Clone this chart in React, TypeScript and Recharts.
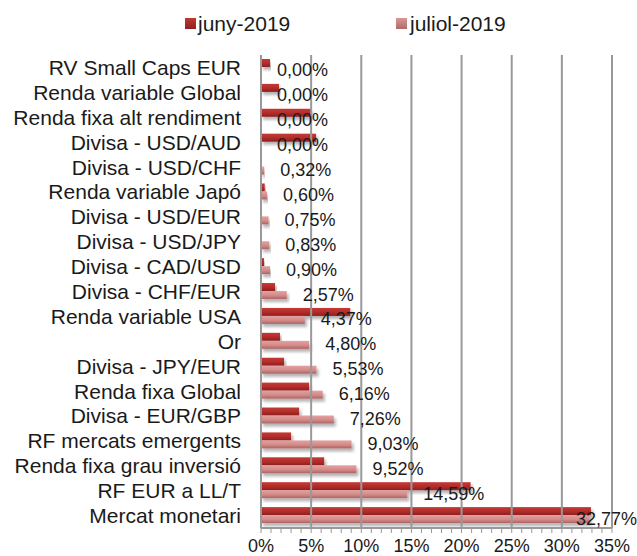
import { BarChart, Bar, XAxis, YAxis, ReferenceLine, LabelList } from 'recharts';

const FONT = '"Liberation Sans", Arial, sans-serif';

const categories = [
  'RV Small Caps EUR', 'Renda variable Global', 'Renda fixa alt rendiment', 'Divisa - USD/AUD',
  'Divisa - USD/CHF', 'Renda variable Japó', 'Divisa - USD/EUR', 'Divisa - USD/JPY',
  'Divisa - CAD/USD', 'Divisa - CHF/EUR', 'Renda variable USA', 'Or', 'Divisa - JPY/EUR',
  'Renda fixa Global', 'Divisa - EUR/GBP', 'RF mercats emergents', 'Renda fixa grau inversió',
  'RF EUR a LL/T', 'Mercat monetari',
];

// % values
const juny2019 = [0.9, 1.8, 5.0, 5.5, 0, 0.37, 0, 0, 0.3, 1.4, 8.9, 1.9, 2.3, 4.8, 3.8, 3.0, 6.3, 20.9, 32.9];
const juliol2019 = [0, 0, 0, 0, 0.32, 0.6, 0.75, 0.83, 0.9, 2.57, 4.37, 4.8, 5.53, 6.16, 7.26, 9.03, 9.52, 14.59, 32.77];

const xTicks = Array.from({ length: 36 }, (_, i) => i);
const gridTicks = [5, 10, 15, 20, 25, 30, 35];

const data = categories.map((name, i) => ({ name, juny: juny2019[i], juliol: juliol2019[i] }));

const fmt = (v: number) => v.toFixed(2).replace('.', ',') + '%';

const BarShape = (fillId: string) => (p: any) => {
  if (!p.width || p.width <= 0) return <g />;
  return <rect x={p.x} y={p.y} width={p.width} height={p.height} fill={`url(#${fillId})`} filter="url(#barShadow)" />;
};

const YTick = ({ y, payload }: any) => (
  <text x={241} y={y} textAnchor="end" dominantBaseline="central" fill="#1a1a1a"
    style={{ fontSize: 21, fontFamily: FONT }}>
    {payload.value}
  </text>
);

const XTick = ({ x, y, payload }: any) => {
  if (payload.value % 5 !== 0) return <g />;
  return (
    <text x={x} y={y + 11} textAnchor="middle" dominantBaseline="central" fill="#1a1a1a"
      style={{ fontSize: 18, fontFamily: FONT }}>
      {payload.value}%
    </text>
  );
};

const ValueLabel = (p: any) => {
  const tx = Math.min(p.x + p.width + 16, 576);
  return (
    <text x={tx} y={p.y + 3.5} dominantBaseline="central" fill="#1a1a1a"
      style={{ fontSize: 18, fontFamily: FONT }}>
      {fmt(p.value)}
    </text>
  );
};

export default function App() {
  return (
    <div style={{ position: 'relative', width: 637, height: 556, background: '#fff', fontFamily: FONT }}>
      <style>{'body{margin:0}'}</style>
      <div style={{ position: 'absolute', left: 185, top: 18, width: 11, height: 11, background: 'linear-gradient(#c0392f,#8e2222)' }} />
      <div style={{ position: 'absolute', left: 198, top: 11, fontSize: 21, color: '#1a1a1a', lineHeight: '26px' }}>juny-2019</div>
      <div style={{ position: 'absolute', left: 396, top: 18, width: 11, height: 11, background: 'linear-gradient(#dc9595,#b06a6a)' }} />
      <div style={{ position: 'absolute', left: 410, top: 11, fontSize: 21, color: '#1a1a1a', lineHeight: '26px' }}>juliol-2019</div>
      <BarChart width={637} height={556} data={data} layout="vertical"
        margin={{ top: 55, right: 25, bottom: 0, left: 0 }} barCategoryGap="16%" barGap={0}>
        <defs>
          <linearGradient id="gJuny" x1="0" y1="0" x2="0" y2="1">
            <stop offset="0%" stopColor="#c43a34" />
            <stop offset="55%" stopColor="#b22c2a" />
            <stop offset="100%" stopColor="#8a1f1f" />
          </linearGradient>
          <linearGradient id="gJuliol" x1="0" y1="0" x2="0" y2="1">
            <stop offset="0%" stopColor="#e3a2a0" />
            <stop offset="55%" stopColor="#d48a88" />
            <stop offset="100%" stopColor="#aa6464" />
          </linearGradient>
          <filter id="barShadow" x="-5%" y="-20%" width="115%" height="180%">
            <feDropShadow dx="2" dy="3" stdDeviation="1.8" floodColor="#000" floodOpacity="0.3" />
          </filter>
        </defs>
        {gridTicks.map((t) => (
          <ReferenceLine key={t} x={t} stroke="#999" strokeWidth={2} />
        ))}
        <XAxis type="number" domain={[0, 35]} ticks={xTicks} interval={0} height={28}
          tick={<XTick />} tickSize={5} tickLine={{ stroke: '#999' }} axisLine={{ stroke: '#999', strokeWidth: 2 }} />
        <YAxis type="category" dataKey="name" width={261} tick={<YTick />} tickLine={false}
          axisLine={{ stroke: '#999', strokeWidth: 2 }} interval={0} />
        <Bar dataKey="juny" isAnimationActive={false} shape={BarShape('gJuny')} />
        <Bar dataKey="juliol" isAnimationActive={false} shape={BarShape('gJuliol')}>
          <LabelList dataKey="juliol" content={<ValueLabel />} />
        </Bar>
      </BarChart>
    </div>
  );
}
